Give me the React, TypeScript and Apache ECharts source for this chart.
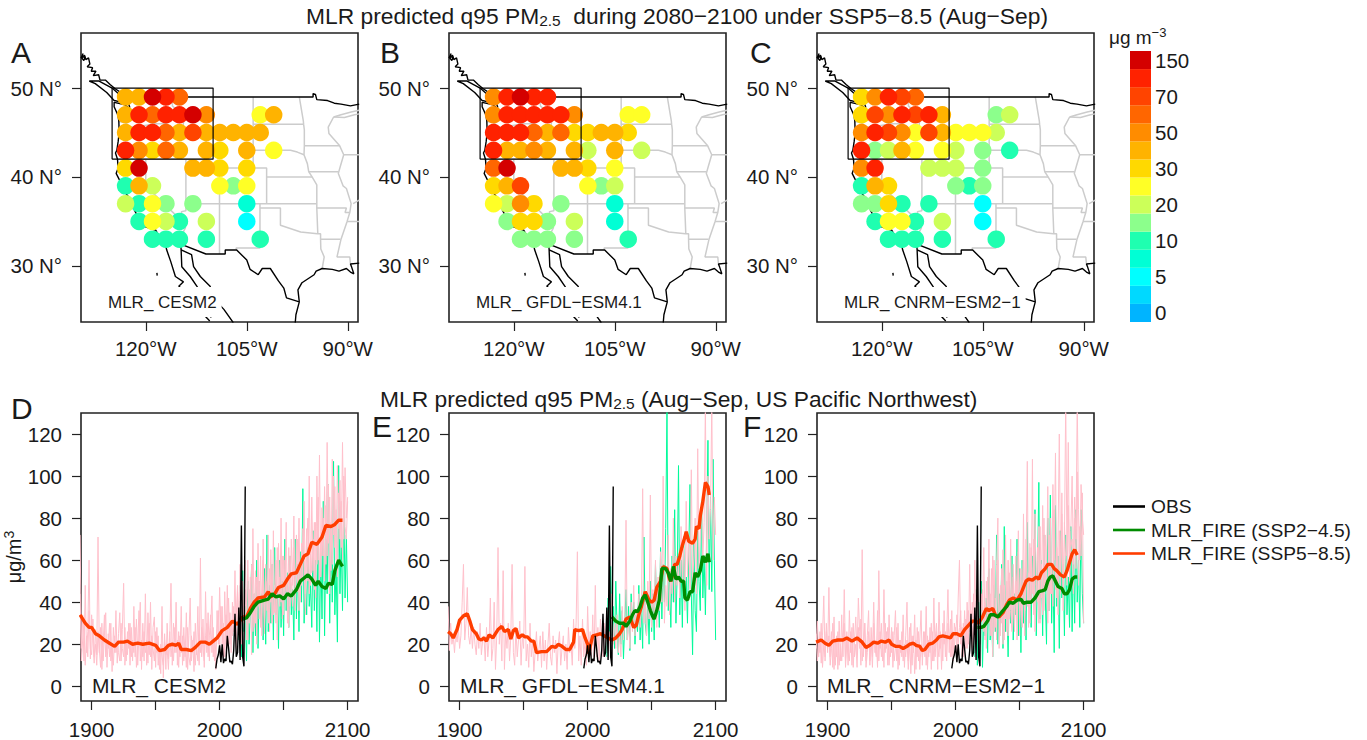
import React, { useEffect, useRef } from "react";
import * as echarts from "echarts";

const FONT = '"Liberation Sans", Arial, sans-serif';
const INK = "#1a1a1a";

// ---------- colour scale ----------
const scaleColors = ["#00B4FF","#00D9FF","#00FFFF","#00FFD5","#1FFFB0","#8CFF8C","#CCFF59","#FFFF26","#FFD900","#FFB300","#FF8C00","#FF6600","#FF4400","#FF2200","#D40000"];
const scaleLabels = ["0","","5","","10","","20","","30","","50","","70","","150"];

// ---------- map grid ----------
const gridLons = [-123,-121,-119,-117,-115,-113,-111,-109,-107,-105,-103,-101];
const gridLats = [49,47,45,43,41,39,37,35,33];
const _ = null;
const levelsA = [
  [9,9,14,13,11,_,_,_,_,_,_,_],
  [9,13,11,13,13,14,10,_,_,_,7,9],
  [9,13,13,11,9,12,9,9,9,9,9,_],
  [13,10,8,11,9,_,9,8,_,9,_,7],
  [8,14,_,_,_,9,9,8,_,8,_,_],
  [4,9,6,_,_,_,_,7,5,7,_,_],
  [6,4,7,5,_,5,_,_,_,3,_,_],
  [_,4,7,6,4,_,6,_,_,2,_,_],
  [_,_,4,4,4,_,4,_,_,_,4,_],
];
const levelsB = [
  [10,13,14,13,13,_,_,_,_,_,_,_],
  [10,13,13,13,13,13,10,_,_,_,7,7],
  [13,13,13,11,9,11,8,8,9,9,8,_],
  [13,9,9,10,9,_,9,6,_,9,_,6],
  [11,14,_,_,_,9,9,8,_,7,_,_],
  [8,9,12,_,_,_,_,7,5,6,_,_],
  [7,6,10,8,_,5,_,_,_,3,_,_],
  [_,5,8,8,5,_,6,_,_,3,_,_],
  [_,_,5,5,5,_,5,_,_,_,4,_],
];
const levelsC = [
  [8,10,13,12,11,_,_,_,_,_,_,_],
  [8,12,10,13,12,13,9,_,_,_,5,6],
  [10,13,12,10,7,12,9,7,7,7,6,_],
  [13,5,6,9,7,_,7,6,_,5,_,4],
  [10,13,_,_,_,6,6,6,_,5,_,_],
  [4,9,8,_,_,_,_,5,4,5,_,_],
  [5,5,8,4,_,4,_,_,_,2,_,_],
  [_,4,7,7,4,_,6,_,_,2,_,_],
  [_,_,4,4,4,_,4,_,_,_,4,_],
];
const regionBox = [[-125,42],[-110,42],[-110,50],[-125,50],[-125,42]];

// ---------- map outlines (lon, lat) ----------
const coastWest = [[-129.3,53.9],[-129.6,53.4],[-129.1,53.7],[-128.9,53.2],[-128.5,53.4],[-128.3,52.7],[-128.7,52.4],[-127.9,52.3],[-128.1,51.9],[-127.4,51.9],[-127.8,51.4],[-127,51.5],[-126.8,50.9],[-126,50.9],[-125.3,50.4],[-124.5,49.9],[-123.5,49.4],[-123,49],[-122.7,48.5],[-122.4,47.9],[-122.5,47.3],[-123,47.3],[-122.7,47.9],[-123.2,48.15],[-124.7,48.4],[-124.7,47.9],[-124.1,46.9],[-124,46.2],[-123.95,45],[-124.1,44],[-124.3,43],[-124.5,42.7],[-124.2,42],[-124.1,41],[-124.4,40.4],[-123.8,39.5],[-123.7,38.9],[-123,38.2],[-122.5,37.7],[-122,36.9],[-121.9,36.6],[-121.3,35.7],[-120.6,35.1],[-120.6,34.55],[-119.3,34.2],[-118.5,34],[-118.3,33.7],[-117.3,33],[-117.1,32.5],[-116.9,31.8],[-116.3,30.5],[-115.6,28.8],[-114.4,28.2],[-115.1,27.7],[-114.2,27.2],[-112.5,26],[-112,25],[-110.5,23.8]];
const haidaGwaii = [[-129.6,53.5],[-129.2,53.1],[-129,53.5],[-129.6,53.5]];
const vancouverIsland = [[-128.4,50.8],[-127.5,50.5],[-125.8,49.5],[-124.7,48.6],[-123.4,48.4],[-123.8,49.2],[-125,50],[-127,50.8],[-128.4,50.8]];
const guadalupe = [[-118.35,29.2],[-118.3,28.9]];
const canadaBorder = [[-123.2,49],[-95.15,49],[-95.15,49.38],[-94.8,49.3],[-94.6,48.7],[-93,48.6],[-92,48.3],[-91,48.2],[-89.6,48],[-88.3,48.2]];
const mexicoBorder = [[-117.1,32.5],[-114.75,32.7],[-114.8,32.45],[-111.07,31.33],[-108.2,31.33],[-108.2,31.78],[-106.5,31.78],[-105,30.65],[-104.5,29.6],[-103.3,29],[-102.7,29.7],[-101.5,29.7],[-100.3,28.3],[-99.5,27.5],[-99.1,26.4],[-97.2,25.95],[-97.7,24.5],[-97.8,23.6]];
const gulfCoast = [[-97.2,25.95],[-97.4,27.3],[-96.8,28.1],[-95,29],[-94.7,29.4],[-93.8,29.7],[-92.3,29.6],[-91.3,29.4],[-90.2,29.7],[-89.6,29.3],[-89.1,29.1],[-89.4,29.8],[-89.6,30.2],[-88.3,30.3]];
const bajaGulfWest = [[-114.8,32.45],[-114.75,31.8],[-114.65,29.9],[-113.4,28.8],[-112.4,27.7],[-111.2,26],[-110.3,24.2]];
const bajaGulfEast = [[-114.75,31.8],[-113.2,31.25],[-112.9,29.9],[-111.9,28.8],[-110.45,27.7],[-109.5,26],[-108.4,25.1],[-107,23.6]];
const stateLines = [
  [[-117.04,49],[-117.04,46.4],[-116.9,46]],
  [[-124,46.25],[-123,46.1],[-122.3,45.6],[-121.2,45.65],[-119.3,45.9],[-119,46],[-116.9,46],[-116.5,45.5],[-117,44.3],[-117,42]],
  [[-124.2,42],[-111.05,42]],
  [[-120,42],[-120,39],[-114.6,35],[-114.1,34.3],[-114.7,33.4],[-114.72,32.7]],
  [[-114.04,42],[-114.04,36.2],[-114.7,36.1],[-114.6,35]],
  [[-114.04,37],[-94.6,37]],
  [[-109.05,41],[-109.05,31.33]],
  [[-111.05,45],[-111.05,41],[-102.05,41],[-102.05,37]],
  [[-111.05,45],[-104.05,45]],
  [[-104.05,49],[-104.05,41]],
  [[-116.05,49],[-116.05,48],[-114.7,47],[-114.3,46.6],[-114.5,45.6],[-113.5,45.1],[-113,44.5],[-111.5,44.6],[-111.05,44.5]],
  [[-104.05,45.94],[-96.56,45.94]],
  [[-104.05,43],[-98.5,43],[-97.5,42.8],[-96.5,42.5]],
  [[-102.05,40],[-95.3,40]],
  [[-103.04,37],[-103.04,32],[-106.6,32],[-106.5,31.78]],
  [[-103.04,36.5],[-100,36.5],[-100,34.56],[-97,33.8],[-94.5,33.6],[-94.04,33.6],[-94.04,33],[-94,31.9],[-93.5,31],[-93.8,29.7]],
  [[-97.2,49],[-96.6,46.3],[-96.56,45.94],[-96.45,45.3],[-96.45,43.5],[-96.5,42.5],[-96,41.5],[-95.8,40.6],[-95.3,40],[-94.6,39.1],[-94.6,36.5],[-94.45,33.6]],
  [[-96.45,43.5],[-91.2,43.5]],
  [[-95.8,40.6],[-91.4,40.6]],
  [[-94.6,36.5],[-90.2,36.5],[-90.4,36],[-89.7,36]],
  [[-92.1,46.75],[-92.9,45.6],[-92.8,44.9],[-91.2,43.5],[-90.6,42.5],[-91.1,41.2],[-91.4,40.4],[-90.7,39],[-90.2,38.7],[-89.5,37],[-89.7,36],[-90.1,35],[-91,33],[-91.6,31],[-89.7,31],[-89.6,30.2]],
  [[-90.6,42.5],[-88.3,42.5]],
  [[-94.04,33],[-91.1,33]],
  [[-90.1,35],[-88.3,35]],
  [[-89.2,37],[-88.3,37.4]],
  [[-92.1,46.75],[-91,47],[-89.5,47.3],[-88.3,47.5]],
  [[-92.1,46.75],[-90.5,46.7],[-89,47],[-88.3,47.1]],
];
const coastLines = [coastWest, haidaGwaii, vancouverIsland, guadalupe, canadaBorder, mexicoBorder, gulfCoast, bajaGulfWest, bajaGulfEast];

// ---------- time series ----------
const obs = [[1997,8.5],[1998,13],[1999,15],[2000,19.5],[2001,11.5],[2002,20],[2003,11],[2004,13],[2005,12],[2006,24],[2007,18],[2008,11.5],[2009,12],[2010,10.5],[2011,17],[2012,34.5],[2013,14],[2014,16],[2015,37.5],[2016,12.5],[2017,76.5],[2018,14],[2019,9.5],[2020,95]];

const redD = [[1891,34],[1895,30],[1898,28],[1900,28],[1903,25],[1906,24],[1910,22],[1914,20.5],[1918,19],[1921,21],[1925,21],[1928,21.5],[1932,20],[1936,20.5],[1940,20],[1945,20.5],[1950,19.5],[1953,17],[1957,17.5],[1960,19.5],[1963,20],[1966,19.5],[1968,20.5],[1970,17.5],[1974,17.5],[1978,17],[1981,18.5],[1985,21],[1989,21],[1992,20],[1995,21.5],[1998,23],[2002,26.5],[2006,28],[2010,31],[2014,29.5],[2018,33],[2021,33],[2024,37],[2027,40],[2030,42],[2035,42.5],[2038,45],[2040,42.5],[2043,44],[2046,47],[2050,48],[2053,51],[2056,53.5],[2060,54],[2063,58],[2066,62],[2069,63],[2072,68.5],[2076,67.5],[2080,71],[2083,76.5],[2087,76],[2090,77],[2093,79],[2096,79]];
const greenD = [[2018,32],[2021,32.5],[2024,35],[2027,38],[2030,40],[2035,41],[2038,41.5],[2041,44],[2044,42.5],[2047,43],[2050,41.5],[2053,44],[2056,43],[2060,46],[2063,50],[2066,51.5],[2069,53],[2072,51],[2075,48],[2077,50],[2080,47.5],[2083,46.5],[2085,49],[2088,48.5],[2090,55],[2093,60],[2095,58],[2096,57]];
const pinkD1 = [
  72,18,34,12,48,16,26,60,13,34,
  22,11,27,15,71,18,9,30,12,24,
  35,9,25,14,30,7,28,16,36,11,
  25,35,12,27,49,10,22,15,30,10,
  28,12,38,14,32,10,25,40,8,30,
  12,44,10,35,15,40,8,28,33,9,
  28,10,18,6,38,4,25,8,30,13,
  22,49,10,30,16,40,10,26,14,38,
  10,28,14,35,8,24,42,12,22,7,
  30,15,38,10,61,14,32,9,45,16,
  35,12,28,43,14,22,8,36,20,47,
  24,38,13,45,20,48,18,35,16,40,
  26,55,18,45,25,58,20,50,30,46,
  22,60,30,52,15,75,28,55,20,68,
  32,62,24,70,28,58,36,72,26,65,
  30,74,35,60,22,68,38,80,32,62,
  42,78,30,66,38,70,48,81,36,72,
  45,80,40,68,52,88,44,75,50,100,
  48,90,55,78,42,100,60,110,52,85,
  62,95,58,116,68,90,55,108,72,95,
  60,105,75,98,66,116,70,104,80,90,
];
const pinkD2 = [
  44,12,22,30,10,24,14,36,18,15,
  32,14,20,10,26,16,28,8,20,34,
  14,22,18,30,12,20,10,24,16,22,
  16,12,30,18,14,28,12,26,18,30,
  14,22,16,28,9,20,36,12,22,14,
  26,16,22,11,30,14,24,18,12,26,
  16,24,8,20,14,10,22,15,18,8,
  26,14,20,12,28,16,22,9,24,16,
  24,12,20,9,28,14,10,24,16,26,
  10,20,12,24,16,28,18,12,24,30,
  14,24,34,16,28,12,20,26,36,16,
  38,20,30,14,34,24,42,20,30,24,
  38,22,34,48,26,36,54,28,40,60,
  40,22,46,34,58,26,44,30,52,38,
  50,28,44,60,25,50,42,30,56,40,
  58,34,48,30,66,42,52,40,62,34,
  60,45,52,28,62,50,38,66,48,56,
  70,36,58,48,75,60,34,66,80,44,
  66,54,70,46,78,58,90,48,72,62,
  80,50,86,62,96,44,78,58,100,66,
  84,52,92,70,88,60,100,76,70,88,
];
const thinGreenD = [
  22,48,14,55,26,38,12,50,20,36,
  58,16,44,24,60,18,50,30,44,22,
  56,20,72,26,48,30,58,22,66,34,
  46,18,60,28,50,24,70,36,54,28,
  62,34,46,22,70,32,58,26,64,40,
  94,30,52,34,66,38,48,28,74,36,
  60,26,82,21,64,32,88,24,70,44,
  96,30,76,40,107,34,58,21,105,44,
  70,36,88,42,72,40,
];

const redE = [[1891,26],[1893,25],[1895,23],[1898,27],[1900,31.5],[1903,33.5],[1906,34.5],[1908,31],[1910,27],[1913,25],[1915,22.5],[1917,22],[1919,23],[1921,21.5],[1923,24.5],[1926,23],[1928,25],[1930,27],[1933,28.5],[1935,26],[1938,27],[1940,22.5],[1942,26.5],[1944,27.5],[1946,23],[1949,24.5],[1951,23.5],[1953,23.5],[1956,21.5],[1958,21.5],[1960,16],[1964,16.5],[1968,16.5],[1972,19],[1975,18.5],[1977,20],[1980,19],[1983,17.5],[1986,17.5],[1989,21],[1990,27],[1993,26.5],[1996,27],[1998,23],[2000,20],[2001,15.5],[2002,19],[2004,24],[2007,24.5],[2010,25],[2013,24],[2016,23],[2019,22],[2022,23],[2025,25],[2027,27],[2030,32],[2033,33],[2036,28],[2038,29],[2040,34],[2042,38],[2045,45],[2048,41],[2050,40],[2052,41],[2054,47],[2057,50],[2059,57],[2062,56],[2064,51],[2065,50],[2067,54],[2068,58],[2070,58],[2072,62],[2074,67],[2076,71],[2077,73.5],[2079,69],[2082,68],[2084,70],[2085,76],[2087,75],[2088,81],[2090,88],[2092,97],[2094,95],[2095,91]];
const greenE = [[2019,33],[2022,31],[2025,30],[2028,30],[2030,28.5],[2033,31],[2035,34],[2037,36],[2039,35.5],[2041,38],[2043,42],[2045,43.5],[2047,40],[2049,36],[2051,33],[2052,32],[2054,36],[2056,41],[2058,56],[2061,56],[2063,54],[2065,50],[2067,57],[2069,51],[2071,52],[2073,50],[2075,50],[2076,42],[2078,41],[2080,45],[2082,45],[2084,54],[2086,52],[2088,55],[2090,62],[2092,59],[2094,63],[2095,59]];
const pinkE = [
  38,17,30,20,24,16,26,21,28,18,
  24,40,58,22,30,47,24,20,28,18,
  28,20,15,26,18,30,15,22,24,12,
  28,14,22,42,12,18,40,8,24,66,
  20,30,12,55,8,26,18,30,12,24,
  58,16,10,28,14,22,31,10,24,18,
  57,12,20,9,30,14,22,7,16,26,
  12,18,24,9,26,12,22,8,20,30,
  14,10,24,16,22,6,20,26,10,18,
  24,12,20,8,28,16,20,10,32,18,
  30,64,12,24,10,32,14,22,10,38,
  18,26,14,34,12,48,14,28,12,32,
  24,14,30,18,36,20,26,14,44,20,
  30,18,34,16,26,14,38,22,30,79,
  22,32,18,40,26,48,24,36,30,44,
  28,36,94,30,40,24,50,32,91,28,
  46,34,60,28,52,36,64,40,100,30,
  48,38,72,34,56,44,80,40,62,48,
  58,42,76,50,66,36,88,52,70,46,
  103,48,62,80,44,113,56,72,86,60,
  78,135,48,100,70,84,135,60,90,72,
];
const thinGreenE = [
  14,42,22,57,24,38,18,50,28,15,
  44,20,36,13,30,46,22,38,17,44,
  28,40,20,34,26,48,22,36,18,71,
  30,24,42,20,50,26,44,22,58,34,
  48,28,66,32,58,40,75,132,36,52,
  28,62,40,84,30,54,105,34,60,28,
  70,40,52,30,64,96,44,15,68,36,
  26,74,50,36,88,42,62,34,72,117,
  46,90,45,108,60,22,
];

const redF = [[1891,21],[1895,22],[1898,20.5],[1901,19.5],[1904,21.5],[1908,22],[1912,22],[1915,23],[1919,21.5],[1923,23],[1927,21],[1930,18.5],[1933,19.5],[1936,21],[1939,20.5],[1942,21.5],[1945,21],[1948,22],[1950,20],[1953,19],[1956,19],[1959,18],[1962,19],[1964,20],[1967,20.5],[1969,19.5],[1972,19],[1974,17],[1976,17.5],[1979,20],[1982,20.5],[1985,22],[1987,23.5],[1990,24],[1993,23.5],[1996,23],[1998,25],[2001,25],[2004,24],[2007,27],[2010,29],[2013,31],[2016,31],[2018,30],[2021,33],[2024,37],[2026,36],[2029,37],[2031,34],[2034,33],[2037,35],[2040,39],[2042,41],[2045,42],[2048,41],[2051,44],[2053,47],[2055,50],[2057,51],[2060,50.5],[2063,52],[2065,51],[2067,54],[2070,56],[2072,58],[2075,58],[2077,56],[2079,55],[2082,53],[2085,52],[2087,55],[2089,59],[2091,63],[2093,65],[2095,62.5]];
const greenF = [[2017,28],[2020,28],[2022,28.5],[2025,31],[2027,34],[2030,34],[2033,33],[2035,34.5],[2037,36],[2040,38],[2042,40],[2045,39.5],[2048,41],[2051,41.5],[2053,39.5],[2056,40],[2059,40],[2062,42],[2065,45],[2068,45.5],[2070,46],[2072,50],[2074,52],[2076,52.5],[2078,50],[2080,47.5],[2083,46.5],[2085,44],[2087,44],[2089,46],[2091,51],[2093,52],[2095,52]];
const pinkF1 = [
  18,31,14,26,11,24,43,12,30,16,
  47,14,26,9,33,10,24,8,31,12,
  34,14,46,12,26,10,36,16,28,9,
  22,33,15,42,26,10,65,14,30,12,
  24,36,10,28,14,40,16,22,9,55,
  18,30,12,46,16,26,10,34,14,28,
  9,24,36,12,30,10,22,14,34,9,
  24,40,12,28,6,24,16,34,8,28,
  12,22,36,10,26,14,38,8,22,16,
  30,12,42,14,26,8,40,18,24,12,
  36,14,24,46,16,32,14,26,18,28,
  16,42,60,20,28,14,36,18,40,20,
  58,24,40,20,60,24,46,22,30,44,
  34,66,22,50,30,70,24,56,14,60,
  28,58,80,18,48,30,65,22,72,26,
  60,32,70,28,52,26,62,34,74,24,
  56,30,82,36,60,107,28,68,40,108,
  34,82,48,66,30,76,42,86,36,72,
  54,95,36,80,44,96,60,111,42,70,
  120,54,82,48,70,135,62,116,50,74,
  100,58,90,70,135,84,60,96,80,72,
];
const pinkF2 = [
  25,12,22,16,30,9,20,14,26,18,
  24,10,18,30,8,22,14,26,10,20,
  12,24,30,9,22,16,12,26,10,30,
  14,20,9,28,18,32,12,22,30,9,
  16,26,12,22,9,30,18,14,36,12,
  26,14,22,9,30,18,28,10,22,16,
  26,12,18,28,8,22,16,26,12,20,
  14,22,8,18,30,10,24,6,22,14,
  26,8,20,14,18,26,10,24,14,28,
  8,26,12,22,30,18,14,26,8,30,
  20,26,12,30,24,14,36,12,30,24,
  34,20,28,36,14,30,22,32,18,36,
  26,36,18,44,30,22,40,28,20,36,
  46,26,40,18,52,30,44,24,62,26,
  42,22,60,36,24,56,20,48,32,50,
  24,54,36,26,58,30,50,22,64,36,
  44,28,60,24,70,38,54,30,66,44,
  70,26,52,40,76,30,58,34,80,48,
  60,30,72,44,56,38,84,46,66,34,
  74,44,92,36,78,60,48,86,54,66,
  70,44,80,56,102,48,76,62,92,30,
];
const thinGreenF = [
  14,46,10,40,20,50,9,34,24,42,
  16,56,22,36,14,48,26,72,20,44,
  28,58,18,76,26,40,14,50,30,62,
  22,44,34,70,24,56,16,60,30,48,
  22,78,36,52,28,62,40,84,24,54,
  97,32,60,24,72,44,20,80,36,91,
  30,56,16,86,38,62,18,74,42,58,
  24,72,34,52,28,76,26,64,30,84,
  40,60,28,84,44,30,
];

// ---------- ticks ----------
const lonTicks = [-120,-105,-90];
const latTicks = [30,40,50];
const yearTicks = [1900,1950,2000,2050,2100];
const yearLabels = [1900,2000,2100];
const pmTicks = [0,20,40,60,80,100,120];

const PANEL_LEFT = [81, 449, 817];
const PANEL_WIDTH = 277;
const SERIES_NAMES = { obs: "OBS", ssp2: "MLR_FIRE (SSP2\u22124.5)", ssp5: "MLR_FIRE (SSP5\u22128.5)" };

function annual(values: number[], start: number) {
  return values.map((v, i) => [start + i, v]);
}

function buildOption() {
  const grids: any[] = [];
  const xAxes: any[] = [];
  const yAxes: any[] = [];
  const series: any[] = [];
  const axisText = { color: INK, fontSize: 20.5, fontFamily: FONT };
  const frame = { show: true, borderColor: "#222", borderWidth: 1.6, backgroundColor: "transparent" };
  const tickStyle = { show: true, length: 9, lineStyle: { color: "#222", width: 1.2 } };

  // map panels
  [levelsA, levelsB, levelsC].forEach((levels, p) => {
    grids.push({ ...frame, left: PANEL_LEFT[p], width: PANEL_WIDTH, top: 33, height: 289 });
    xAxes.push({
      type: "value", gridIndex: p, min: -129.62, max: -88.48, splitLine: { show: false },
      axisLine: { show: false, onZero: false },
      axisTick: { ...tickStyle, customValues: lonTicks },
      axisLabel: { ...axisText, margin: 16, customValues: lonTicks, formatter: (v: number) => `${-v}\u00B0W` },
    });
    yAxes.push({
      type: "value", gridIndex: p, min: 23.68, max: 56.2, splitLine: { show: false },
      axisLine: { show: false, onZero: false },
      axisTick: { ...tickStyle, customValues: latTicks },
      axisLabel: { ...axisText, margin: 19, customValues: latTicks, formatter: (v: number) => `${v} N\u00B0` },
    });
    const base = { type: "line", xAxisIndex: p, yAxisIndex: p, symbol: "none", silent: true, clip: true, z: 2 };
    stateLines.forEach((d) => series.push({ ...base, data: d, lineStyle: { color: "#cccccc", width: 1.5 } }));
    coastLines.forEach((d) => series.push({ ...base, data: d, lineStyle: { color: "#000", width: 1.4 } }));
    const pts: any[] = [];
    levels.forEach((row, r) => row.forEach((lv, c) => {
      if (lv !== null) pts.push({ value: [gridLons[c], gridLats[r]], level: lv, itemStyle: { color: scaleColors[lv as number], opacity: 1 } });
    }));
    pts.sort((a, b) => a.level - b.level);
    series.push({ type: "scatter", xAxisIndex: p, yAxisIndex: p, data: pts, symbolSize: 17.5, silent: true, z: 3, itemStyle: { opacity: 1 } });
    series.push({ ...base, data: regionBox, lineStyle: { color: "#000", width: 1.2 }, z: 4 });
  });

  // time-series panels
  const panels = [
    { thin: thinGreenD, pink: [pinkD1, pinkD2], red: redD, green: greenD },
    { thin: thinGreenE, pink: [pinkE], red: redE, green: greenE },
    { thin: thinGreenF, pink: [pinkF1, pinkF2], red: redF, green: greenF },
  ];
  panels.forEach((pn, i) => {
    const g = i + 3;
    grids.push({ ...frame, left: PANEL_LEFT[i], width: PANEL_WIDTH, top: 413, height: 288 });
    xAxes.push({
      type: "value", gridIndex: g, min: 1891.7, max: 2108.1, splitLine: { show: false },
      axisLine: { show: false, onZero: false },
      axisTick: { ...tickStyle, customValues: yearTicks },
      axisLabel: { ...axisText, margin: 18, customValues: yearLabels, formatter: (v: number) => String(v) },
    });
    yAxes.push({
      type: "value", gridIndex: g, min: -7, max: 130, splitLine: { show: false },
      axisLine: { show: false, onZero: false },
      axisTick: { ...tickStyle, customValues: pmTicks },
      axisLabel: { ...axisText, margin: 19, customValues: pmTicks, formatter: (v: number) => String(v) },
      ...(i === 0 ? {
        name: "{a|\u03BCg/m}{s|3}", nameLocation: "middle", nameGap: 44, nameRotate: 90,
        nameTextStyle: { color: INK, fontFamily: FONT, rich: { a: { fontSize: 20, fontFamily: FONT, color: INK, lineHeight: 24 }, s: { fontSize: 14, fontFamily: FONT, color: INK, verticalAlign: "top", lineHeight: 15 } } },
      } : {}),
    });
    const base = { type: "line", xAxisIndex: g, yAxisIndex: g, symbol: "none", silent: true, clip: true, z: 2 };
    series.push({ ...base, data: annual(pn.thin, 2015), lineStyle: { color: "#00FA9A", width: 1 } });
    pn.pink.forEach((d) => series.push({ ...base, data: annual(d, 1891), lineStyle: { color: "#FFC0CB", width: 1 } }));
    series.push({ ...base, name: i === 0 ? SERIES_NAMES.ssp5 : undefined, data: pn.red, itemStyle: { color: "#FF3D00" }, lineStyle: { color: "#FF3D00", width: 3.4 } });
    series.push({ ...base, name: i === 0 ? SERIES_NAMES.ssp2 : undefined, data: pn.green, itemStyle: { color: "#008B00" }, lineStyle: { color: "#008B00", width: 3.4 } });
    series.push({ ...base, name: i === 0 ? SERIES_NAMES.obs : undefined, data: obs, itemStyle: { color: "#000" }, lineStyle: { color: "#000", width: 1.4 } });
  });

  // colour bar
  const cb = 6;
  grids.push({ left: 1130, width: 21, top: 51, height: 271 });
  xAxes.push({ type: "value", gridIndex: cb, min: 0, max: 1, show: false });
  yAxes.push({
    type: "category", gridIndex: cb, position: "right", data: scaleLabels,
    axisLine: { show: false }, axisTick: { show: false },
    axisLabel: { ...axisText, interval: 0, margin: 4 },
  });
  series.push({
    type: "bar", xAxisIndex: cb, yAxisIndex: cb, barWidth: "100%", silent: true,
    data: scaleColors.map((c) => ({ value: 1, itemStyle: { color: c } })),
  });

  const normal = { fontFamily: FONT, color: INK, fontWeight: "normal" };
  const sub = { ...normal, fontSize: 15.5, verticalAlign: "bottom", lineHeight: 16, padding: [9, 0, 0, 0] };
  const mainRich = { a: { ...normal, fontSize: 22.8, lineHeight: 25 }, s: sub };
  const letter = (text: string, left: number, top: number) => ({ text, left, top, padding: 0, textStyle: { ...normal, fontSize: 30 } });
  const mapLabel = (text: string, left: number) => ({ text, left, top: 287, padding: [7, 5, 6, 5], backgroundColor: "#fff", textStyle: { ...normal, fontSize: 17 } });
  const seriesLabel = (text: string, left: number) => ({ text, left, top: 675, padding: 0, textStyle: { ...normal, fontSize: 21 } });

  const titles = [
    { text: "{a|MLR predicted q95 PM}{s|2.5}{a|  during 2080\u22122100 under SSP5\u22128.5 (Aug\u2212Sep)}", left: 306, top: 3, padding: 0, textStyle: { ...normal, rich: mainRich } },
    { text: "{a|MLR predicted q95 PM}{s|2.5}{a| (Aug\u2212Sep, US Pacific Northwest)}", left: 380, top: 386, padding: 0, textStyle: { ...normal, rich: mainRich } },
    { text: "{a|\u03BCg m}{s|\u22123}", left: 1109, top: 26, padding: 0, textStyle: { ...normal, rich: { a: { ...normal, fontSize: 19, lineHeight: 22 }, s: { ...normal, fontSize: 13, verticalAlign: "top", lineHeight: 14 } } } },
    letter("A", 11, 37), letter("B", 380, 37), letter("C", 750, 37),
    letter("D", 11, 393), letter("E", 372, 411), letter("F", 743, 411),
    mapLabel("MLR_ CESM2", 103), mapLabel("MLR_ GFDL\u2212ESM4.1", 471), mapLabel("MLR_ CNRM\u2212ESM2\u22121", 839),
    seriesLabel("MLR_ CESM2", 92), seriesLabel("MLR_ GFDL\u2212ESM4.1", 460), seriesLabel("MLR_ CNRM\u2212ESM2\u22121", 827),
  ];

  return {
    animation: false,
    backgroundColor: "#fff",
    textStyle: { fontFamily: FONT },
    title: titles,
    grid: grids,
    xAxis: xAxes,
    yAxis: yAxes,
    series,
    legend: {
      left: 1113, top: 497, orient: "vertical", icon: "rect", itemWidth: 32, itemHeight: 2.6, itemGap: 4.5, padding: 0,
      selectedMode: false,
      data: [SERIES_NAMES.obs, SERIES_NAMES.ssp2, SERIES_NAMES.ssp5],
      textStyle: { fontSize: 19.2, color: INK, fontFamily: FONT, padding: [0, 0, 0, 1] },
    },
  };
}

export default function App() {
  const ref = useRef<HTMLDivElement>(null);
  useEffect(() => {
    document.body.style.margin = "0";
    const chart = echarts.init(ref.current as HTMLDivElement, undefined, { renderer: "svg" });
    chart.setOption(buildOption() as any);
    return () => chart.dispose();
  }, []);
  return <div ref={ref} style={{ width: 1367, height: 740, overflow: "hidden" }} />;
}
